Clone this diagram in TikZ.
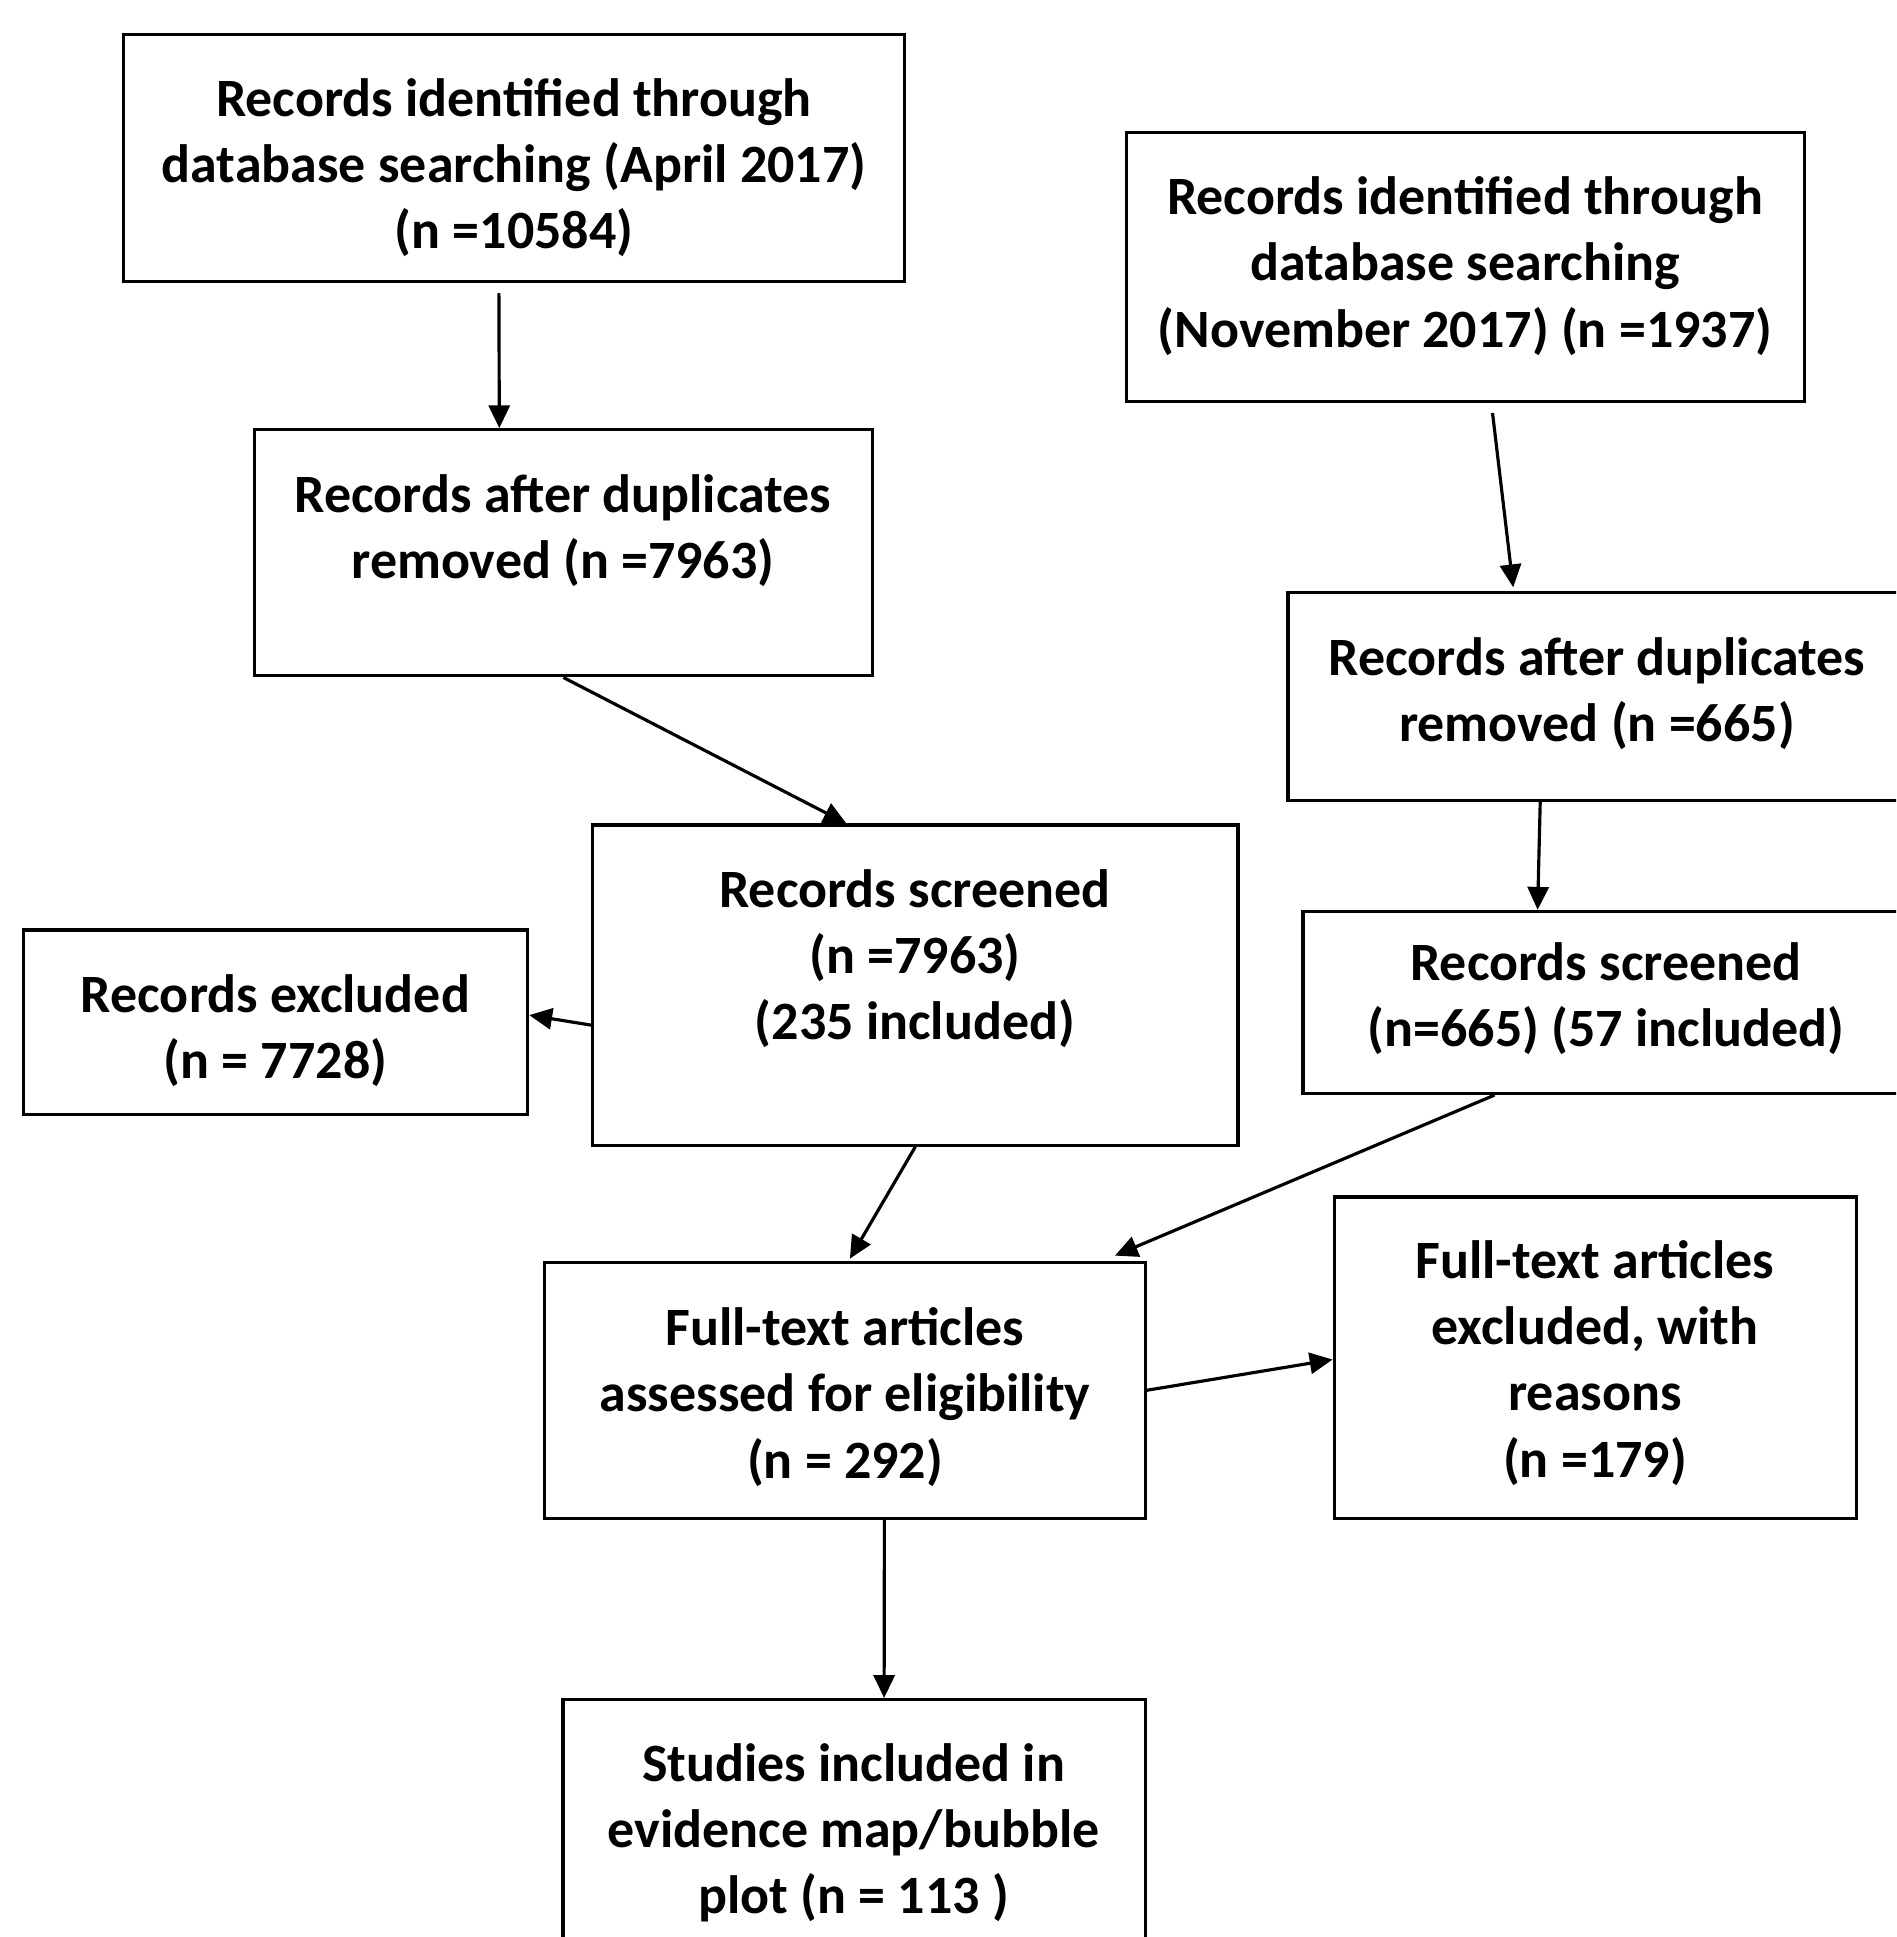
\documentclass[tikz,border=0pt]{standalone}
\usepackage{fontspec}
\setmainfont{Carlito}
\usetikzlibrary{arrows.meta, calc, positioning}

\tikzset{
    box/.style={draw, line width=0.9pt, rectangle, inner sep=0pt},
    txt/.style={align=center, inner sep=0pt, font=\fontsize{15.35}{18.8}\selectfont\bfseries},
    flow/.style={-{Triangle[length=6.5pt,width=6pt]}, line width=0.9pt}
}

\begin{document}
\begin{tikzpicture}[x=0.01cm, y=-0.01cm]
    \useasboundingbox (0,0) rectangle (1896,1937);
    \clip (0,0) rectangle (1896,1937);

    % boxes
    \node[box, minimum width=7.81cm, minimum height=2.47cm] (idApr) at (513.9,158.1) {};
    \node[box, minimum width=6.78cm, minimum height=2.69cm] (idNov) at (1465.5,266.8) {};
    \node[box, minimum width=6.18cm, minimum height=2.46cm] (dupApr) at (563.3,552.8) {};
    \node[box, minimum width=6.18cm, minimum height=2.075cm] (dupNov) at (1597.2,696.7) {};
    \node[box, minimum width=6.45cm, minimum height=3.20cm] (scrApr) at (915.3,985.1) {};
    \node[box, minimum width=5.04cm, minimum height=1.84cm] (excl) at (275.5,1022.1) {};
    \node[box, minimum width=6.05cm, minimum height=1.82cm] (scrNov) at (1605.6,1002.4) {};
    \node[box, minimum width=6.00cm, minimum height=2.56cm] (full) at (844.9,1390.3) {};
    \node[box, minimum width=5.22cm, minimum height=3.21cm] (fullExcl) at (1595.3,1357.5) {};
    \node[box, minimum width=5.82cm, minimum height=3.00cm] (incl) at (854.1,1849.6) {};

    % texts
    \node[txt] (idAprTxt) at (514,168) {Records identified through\\database searching (April 2017)\\(n =10584)};
    \node[txt] (idNovTxt) at (1465,266) {Records identified through\\database searching\\(November 2017) (n =1937)};
    \node[txt] (dupAprTxt) at (563,531) {Records after duplicates\\removed (n =7963)};
    \node[txt] (dupNovTxt) at (1597,694) {Records after duplicates\\removed (n =665)};
    \node[txt] (scrAprTxt) at (915,959) {Records screened\\(n =7963)\\(235 included)};
    \node[txt] (exclTxt) at (275.5,1031) {Records excluded\\(n = 7728)};
    \node[txt] (scrNovTxt) at (1606,999) {Records screened\\(n=665) (57 included)};
    \node[txt] (fullTxt) at (845,1397) {Full-text articles\\assessed for eligibility\\(n = 292)};
    \node[txt] (fullExclTxt) at (1595,1363) {Full-text articles\\excluded, with\\reasons\\(n =179)};
    \node[txt] (inclTxt) at (853.5,1833) {Studies included in\\evidence map/bubble\\plot (n = 113 )};

    % connectors
    \draw[flow] ($(idApr.south)+(-15,10)$) -- ($(dupApr.north)+(-64,0)$);
    \draw[flow] ($(idNov.south)+(27,10)$) -- ($(dupNov.north)+(-84,-4)$);
    \draw[flow] (dupApr.south) -- ($(scrApr.north)+(-69,0)$);
    \draw[flow] ($(dupNov.south)+(-57,0)$) -- ($(scrNov.north)+(-68,0)$);
    \draw[flow] ($(scrApr.west)+(0,40)$) -- ($(excl.east)+(0,-7)$);
    \draw[flow] (scrApr.south) -- ($(full.north)+(5,-2)$);
    \draw[flow] ($(scrNov.south)+(-111,0)$) -- ($(full.north)+(270,-5)$);
    \draw[flow] (full.east) -- ($(fullExcl.west)+(0,2)$);
    \draw[flow] ($(full.south)+(39.5,0)$) -- ($(incl.north)+(30,0)$);
\end{tikzpicture}
\end{document}
